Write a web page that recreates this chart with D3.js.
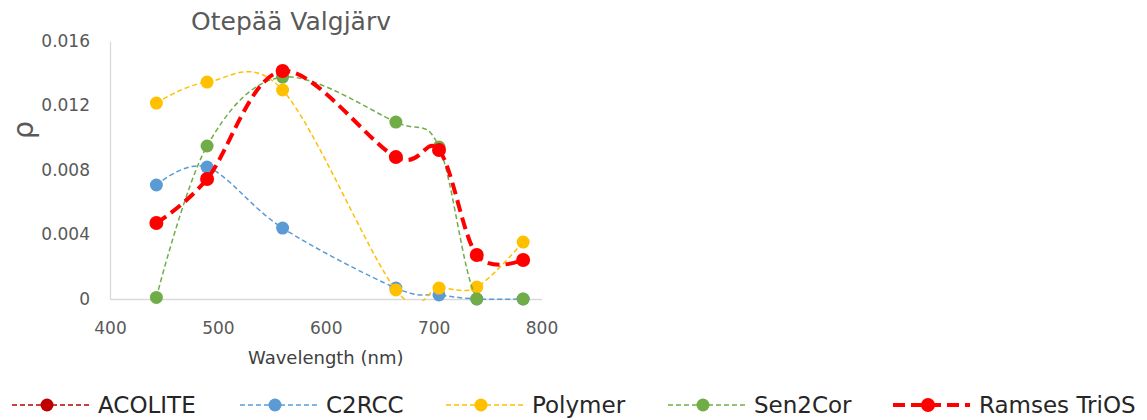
<!DOCTYPE html>
<html>
<head>
<meta charset="utf-8">
<script src="https://cdn.jsdelivr.net/npm/d3@7"></script>
<style>
  html, body { margin: 0; padding: 0; background: #fff; }
  svg { display: block; }
</style>
</head>
<body>
<svg id="chart" width="1147" height="420"></svg>
<script>
// Reflectance spectra for Otepää Valgjärv (Sentinel-2 band centres)
const wavelengths = [443, 490, 560, 665, 705, 740, 783];
const acolite = [null, null, null, null, null, null, null];
const c2rcc   = [0.00707, 0.00818, 0.00440, 0.00068, 0.00025, 0.0000, 0.0000];
const polymer = [0.01215, 0.01345, 0.01296, 0.00056, 0.00068, 0.00074, 0.00353];
const sen2cor = [0.00010, 0.00949, 0.01376, 0.01097, 0.00942, 0.0000, 0.0000];
const ramses  = [0.00471, 0.00744, 0.01414, 0.00880, 0.00924, 0.00273, 0.00242];

const xTicks = [400, 500, 600, 700, 800];
const yTicks = [0, 0.004, 0.008, 0.012, 0.016];
const yTickLabels = ["0", "0.004", "0.008", "0.012", "0.016"];
const seriesNames = ["ACOLITE", "C2RCC", "Polymer", "Sen2Cor", "Ramses TriOS"];

const series = [
  { name: seriesNames[0], values: acolite, color: "#C00000", width: 1.5, dash: "5,3", r: 6.5 },
  { name: seriesNames[1], values: c2rcc,   color: "#5B9BD5", width: 1.5, dash: "5,3", r: 6.5 },
  { name: seriesNames[2], values: polymer, color: "#FFC000", width: 1.5, dash: "5,3", r: 6.5 },
  { name: seriesNames[3], values: sen2cor, color: "#70AD47", width: 1.5, dash: "5,3", r: 6.5 },
  { name: seriesNames[4], values: ramses,  color: "#FF0000", width: 4,   dash: "12,6", r: 7 }
];

const svg = d3.select("#chart");
const font = "'DejaVu Sans', sans-serif";

const x = d3.scaleLinear().domain([400, 800]).range([110, 541.5]);
const y = d3.scaleLinear().domain([0, 0.016]).range([299, 41]);

// Lines are clipped to the plot area; markers are not
svg.append("defs").append("clipPath").attr("id", "plot-clip")
  .append("rect")
  .attr("x", x.range()[0]).attr("y", y.range()[1])
  .attr("width", x.range()[1] - x.range()[0])
  .attr("height", y.range()[0] - y.range()[1] + 2);

// Title
svg.append("text")
  .attr("x", 291).attr("y", 30)
  .attr("text-anchor", "middle")
  .attr("font-family", font).attr("font-size", 25)
  .attr("fill", "#595959")
  .text("Otepää Valgjärv");

// Axes
const xAxis = d3.axisBottom(x).tickValues(xTicks).tickSize(0).tickPadding(23).tickFormat(d3.format("d"));
const gx = svg.append("g").attr("transform", `translate(0,${y(0)})`).call(xAxis);
gx.select(".domain").attr("stroke", "#d9d9d9").attr("stroke-width", 1.3);
gx.selectAll("text").attr("font-family", font).attr("font-size", 17).attr("fill", "#595959");

const yAxis = d3.axisLeft(y).tickValues(yTicks).tickSize(0).tickPadding(20)
  .tickFormat((d, i) => yTickLabels[i]);
const gy = svg.append("g").attr("transform", `translate(${x(400)},0)`).call(yAxis);
gy.select(".domain").attr("stroke", "#d9d9d9").attr("stroke-width", 1.3);
gy.selectAll("text").attr("font-family", font).attr("font-size", 17).attr("fill", "#595959");

// Axis titles
svg.append("text")
  .attr("x", (x.range()[0] + x.range()[1]) / 2).attr("y", 364)
  .attr("text-anchor", "middle")
  .attr("font-family", font).attr("font-size", 18)
  .attr("fill", "#404040")
  .text("Wavelength (nm)");

svg.append("text")
  .attr("transform", "translate(33,130) rotate(-90)")
  .attr("text-anchor", "middle")
  .attr("font-family", font).attr("font-size", 29)
  .attr("fill", "#595959")
  .text("ρ");

// Smoothed series lines and markers
const line = d3.line()
  .defined(d => d.v != null)
  .x(d => x(d.w)).y(d => y(d.v))
  .curve(d3.curveCatmullRom.alpha(0));

series.forEach(s => {
  const pts = wavelengths.map((w, i) => ({ w, v: s.values[i] }));
  const g = svg.append("g");
  g.append("path")
    .datum(pts)
    .attr("d", line)
    .attr("clip-path", "url(#plot-clip)")
    .attr("fill", "none")
    .attr("stroke", s.color)
    .attr("stroke-width", s.width)
    .attr("stroke-dasharray", s.dash);
  g.selectAll("circle")
    .data(pts.filter(d => d.v != null))
    .join("circle")
    .attr("cx", d => x(d.w)).attr("cy", d => y(d.v))
    .attr("r", s.r)
    .attr("fill", s.color);
});

// Legend
const legendX = [12, 240, 446, 668, 893];
const legendY = 405;
series.forEach((s, i) => {
  const g = svg.append("g").attr("transform", `translate(${legendX[i]},${legendY})`);
  g.append("line")
    .attr("x1", 0).attr("x2", 77).attr("y1", 0).attr("y2", 0)
    .attr("stroke", s.color)
    .attr("stroke-width", s.width)
    .attr("stroke-dasharray", s.dash);
  g.append("circle").attr("cx", 35).attr("cy", 0).attr("r", s.r).attr("fill", s.color);
  g.append("text")
    .attr("x", 86).attr("y", 0).attr("dy", "0.36em")
    .attr("font-family", font).attr("font-size", 23)
    .attr("fill", "#262626")
    .text(s.name);
});
</script>
</body>
</html>
